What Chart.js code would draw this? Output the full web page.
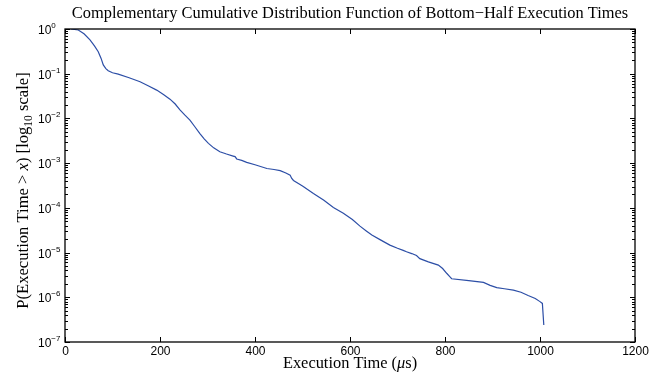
<!DOCTYPE html>
<html>
<head>
<meta charset="utf-8">
<script src="https://cdn.jsdelivr.net/npm/chart.js@4"></script>
<style>
html,body{margin:0;padding:0;background:#fff;}
canvas{display:block;}
</style>
</head>
<body>
<canvas id="c" width="672" height="373"></canvas>
<script>
// ---- data ----
const execTimes = [12, 28, 40, 52.6, 62, 70, 76, 80.6, 86, 91, 100, 112, 135, 158, 175, 193, 208, 221, 232, 242, 252, 263, 273, 284, 293, 302, 313, 326, 340, 354, 358, 361.5, 372, 382.5, 400, 425, 440, 453, 465, 474, 477, 481, 500, 523, 545, 565, 586, 605, 621, 635, 646, 665, 684, 700, 712, 719, 730, 740, 747, 765, 786, 795, 804, 810, 814, 850, 881, 895, 909, 925, 944, 960, 975, 990, 1000, 1005, 1008];
const ccdfValues = [1.0, 0.95, 0.78, 0.57, 0.42, 0.31, 0.22, 0.157, 0.13, 0.117, 0.105, 0.098, 0.081, 0.066, 0.054, 0.043, 0.034, 0.027, 0.021, 0.0155, 0.012, 0.0092, 0.0066, 0.0046, 0.0035, 0.00277, 0.0022, 0.0018, 0.0016, 0.00144, 0.0014, 0.00124, 0.00115, 0.00104, 0.00092, 0.00076, 0.00072, 0.00068, 0.0006, 0.00054, 0.00046, 0.00041, 0.00031, 0.00021, 0.000148, 0.000102, 7.6e-5, 5.5e-5, 3.9e-5, 3.0e-5, 2.46e-5, 1.9e-5, 1.47e-5, 1.25e-5, 1.12e-5, 1.04e-5, 9.5e-6, 8.6e-6, 7.3e-6, 6.2e-6, 5.25e-6, 4.4e-6, 3.4e-6, 2.9e-6, 2.6e-6, 2.35e-6, 2.15e-6, 1.85e-6, 1.65e-6, 1.55e-6, 1.45e-6, 1.3e-6, 1.1e-6, 9.4e-7, 8.0e-7, 7.3e-7, 2.4e-7];
const xTickValues = [0, 200, 400, 600, 800, 1000, 1200];
const yTickExponents = [0, -1, -2, -3, -4, -5, -6, -7];
const titleText = "Complementary Cumulative Distribution Function of Bottom\u2212Half Execution Times";

const SERIF = '"Liberation Serif", "Times New Roman", serif';
const SANS = '"Liberation Sans", Helvetica, Arial, sans-serif';

function drawRich(ctx, segs, x, y, align) {
  let total = 0;
  segs.forEach(s => { ctx.font = s.font; s.w = ctx.measureText(s.t).width; total += s.w; });
  let cx = align === 'center' ? x - total / 2 : (align === 'right' ? x - total : x);
  ctx.textAlign = 'left';
  ctx.textBaseline = 'alphabetic';
  segs.forEach(s => { ctx.font = s.font; ctx.fillText(s.t, cx, y + (s.dy || 0)); cx += s.w; });
}

const decor = {
  id: 'decor',
  afterDraw(chart) {
    const { ctx, chartArea: a, scales: { x, y } } = chart;
    ctx.save();
    ctx.fillStyle = '#000';
    ctx.strokeStyle = '#000';
    const seg = (x1, y1, x2, y2, w) => { ctx.lineWidth = w || 1; ctx.beginPath(); ctx.moveTo(x1, y1); ctx.lineTo(x2, y2); ctx.stroke(); };

    // axes box
    ctx.lineWidth = 1.3;
    ctx.strokeRect(a.left, a.top, a.right - a.left, a.bottom - a.top);

    // x ticks + labels
    xTickValues.forEach(v => {
      const px = Math.round(x.getPixelForValue(v)) + 0.5;
      seg(px, a.bottom, px, a.bottom - 5);
      seg(px, a.top, px, a.top + 5);
      ctx.font = '12px ' + SANS;
      ctx.textAlign = 'center';
      ctx.textBaseline = 'alphabetic';
      ctx.fillText(String(v), px, a.bottom + 13);
    });

    // y ticks + labels
    yTickExponents.forEach(e => {
      const py = Math.round(y.getPixelForValue(Math.pow(10, e))) + 0.5;
      seg(a.left, py, a.left + 5, py);
      seg(a.right, py, a.right - 5, py);
      if (e > -7) {
        for (let m = 2; m <= 9; m++) {
          const pm = Math.round(y.getPixelForValue(m * Math.pow(10, e - 1))) + 0.5;
          seg(a.left, pm, a.left + 3, pm);
          seg(a.right, pm, a.right - 3, pm);
        }
      }
      const expTxt = e === 0 ? '0' : '\u2212' + Math.abs(e);
      drawRich(ctx, [
        { t: '10', font: '12px ' + SANS },
        { t: expTxt, font: '8px ' + SANS, dy: -6 }
      ], a.left - 27, py + 4, 'left');
    });

    // title
    drawRich(ctx, [{ t: titleText, font: '16.4px ' + SERIF }], (a.left + a.right) / 2, 18, 'center');

    // x axis title
    drawRich(ctx, [
      { t: 'Execution Time (', font: '16.4px ' + SERIF },
      { t: '\u03bc', font: 'italic 16.4px ' + SERIF },
      { t: 's)', font: '16.4px ' + SERIF }
    ], (a.left + a.right) / 2, 368, 'center');

    // y axis title (rotated)
    ctx.save();
    ctx.translate(28, (a.top + a.bottom) / 2 + 5);
    ctx.rotate(-Math.PI / 2);
    drawRich(ctx, [
      { t: 'P(Execution Time > ', font: '16.6px ' + SERIF },
      { t: 'x', font: 'italic 16.6px ' + SERIF },
      { t: ') [log', font: '16.6px ' + SERIF },
      { t: '10', font: '11.5px ' + SERIF, dy: 4 },
      { t: ' scale]', font: '16.6px ' + SERIF }
    ], 0, 0, 'center');
    ctx.restore();

    ctx.restore();
  }
};

const points = execTimes.map((t, i) => ({ x: t, y: ccdfValues[i] }));

new Chart(document.getElementById('c'), {
  type: 'line',
  data: {
    datasets: [{
      data: points,
      borderColor: '#2c4ea6',
      borderWidth: 1.2,
      pointRadius: 0,
      tension: 0,
      fill: false
    }]
  },
  options: {
    responsive: false,
    animation: false,
    devicePixelRatio: 1,
    layout: { padding: { left: 65, right: 37, top: 29, bottom: 31 } },
    plugins: { legend: { display: false }, title: { display: false }, tooltip: { enabled: false } },
    scales: {
      x: { type: 'linear', min: 0, max: 1200, display: false },
      y: { type: 'logarithmic', min: 1e-7, max: 1, display: false }
    }
  },
  plugins: [decor]
});
</script>
</body>
</html>
